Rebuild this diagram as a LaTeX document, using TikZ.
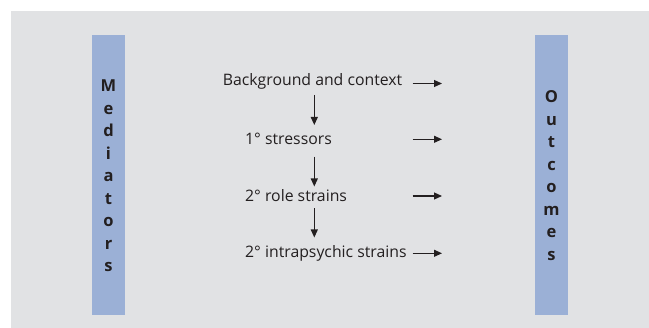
\documentclass[tikz,border=0pt]{standalone}
\usepackage{fontspec}
\setmainfont{Open Sans}
\usetikzlibrary{arrows.meta}
\definecolor{bggray}{HTML}{E1E2E4}
\definecolor{barblue}{HTML}{9BB0D6}
\definecolor{ink}{HTML}{231F20}
\begin{document}
\begin{tikzpicture}[x=1pt,y=-1pt,
  bar/.style={fill=barblue,draw=none,minimum width=33pt,minimum height=280pt,inner sep=0pt},
  bartext/.style={text=ink,align=center,inner sep=0pt,font=\bfseries\fontsize{16.5}{22.5}\selectfont},
  lbl/.style={text=ink,inner sep=0pt,anchor=west,font=\fontsize{15.8}{18}\selectfont},
  arr/.style={draw=ink,line width=1.1pt,-{Triangle[length=8pt,width=7pt]}}]
\useasboundingbox (0,0) rectangle (649,328);
\fill[bggray] (11,11) rectangle (649,328);
\node[bar] (medbar) at (108.5,175) {};
\node[bar] (outbar) at (551.5,175) {};
\node[bartext] (med) at (108.5,175.7) {M\\e\\d\\i\\a\\t\\o\\r\\s};
\node[bartext] (out) at (551.5,175.8) {O\\u\\t\\c\\o\\m\\e\\s};
\node[lbl] (bg) at (222.7,81.5) {Background and context};
\node[lbl] (s1) at (245,139) {1° stressors};
\node[lbl] (s2) at (245,196) {2° role strains};
\node[lbl] (s3) at (245,253.3) {2° intrapsychic strains};
\foreach \n/\y in {bg/83.5,s1/139.3,s2/196,s3/253.3}{
  \coordinate (\n a) at (412.5,\y);
  \coordinate (\n b) at (442,\y);
  \draw[arr] (\n a) -- (\n b);
}
\coordinate (v1a) at (314.3,95);   \coordinate (v1b) at (314.3,125);
\coordinate (v2a) at (314.3,156.7); \coordinate (v2b) at (314.3,186.5);
\coordinate (v3a) at (314.3,208.3); \coordinate (v3b) at (314.3,237.5);
\draw[arr] (v1a) -- (v1b);
\draw[arr] (v2a) -- (v2b);
\draw[arr] (v3a) -- (v3b);
\end{tikzpicture}
\end{document}
